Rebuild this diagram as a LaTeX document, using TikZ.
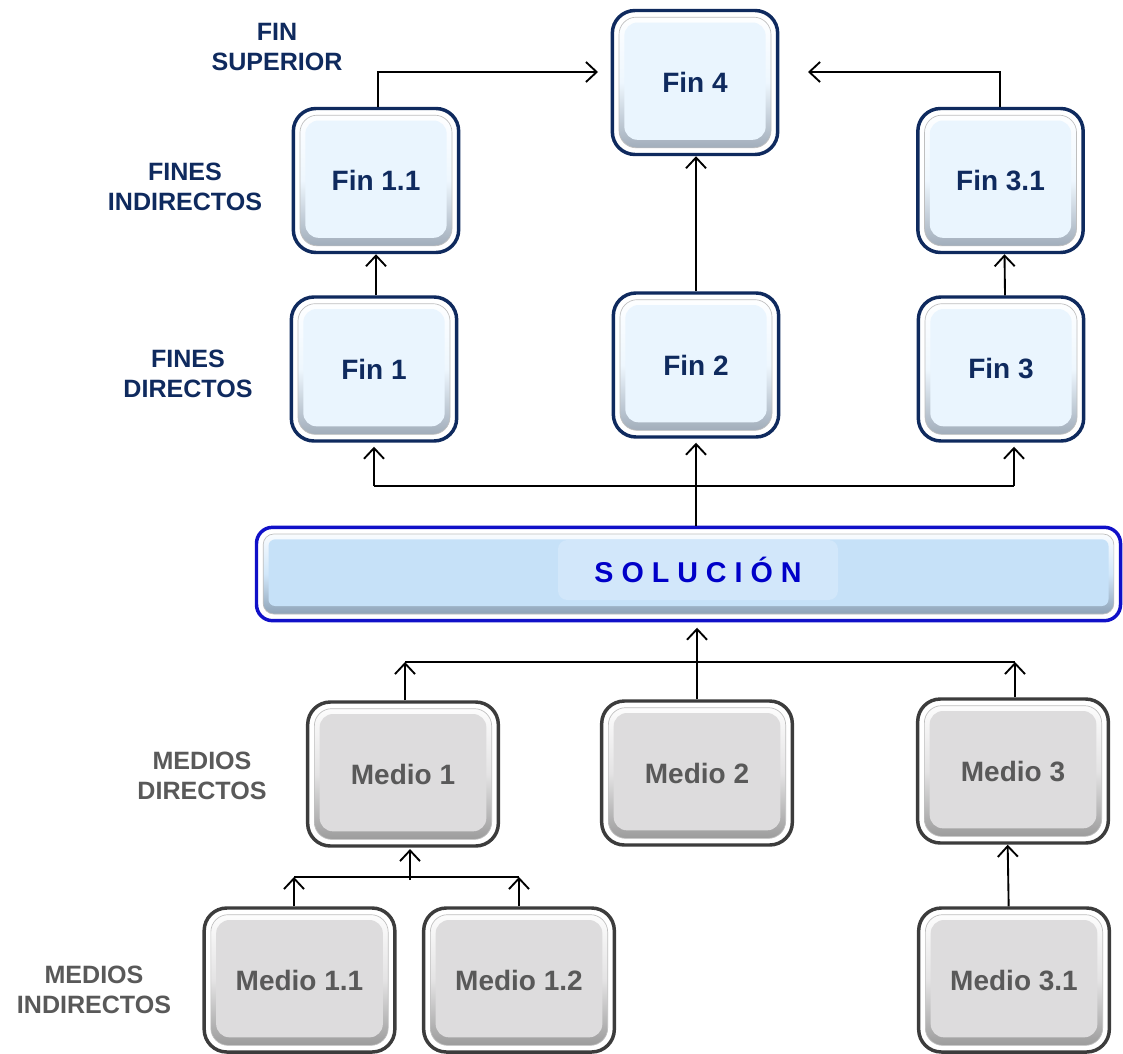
\documentclass[tikz,border=0pt]{standalone}
\usepackage{fontspec}
\setmainfont{Liberation Sans}
\usetikzlibrary{arrows.meta,calc}

\definecolor{navy}{HTML}{0F2A5E}
\definecolor{finfill}{HTML}{EAF5FE}
\definecolor{finbevel}{HTML}{9AA6B4}
\definecolor{medborder}{HTML}{3C3C3C}
\definecolor{medfill}{HTML}{DDDCDD}
\definecolor{medbevel}{HTML}{959595}
\definecolor{medtext}{HTML}{595959}
\definecolor{solborder}{HTML}{1010C8}
\definecolor{solfill}{HTML}{C6E1F8}
\definecolor{solpanel}{HTML}{D2E7FA}
\definecolor{solbevel}{HTML}{8398AD}
\definecolor{soltext}{HTML}{0000C8}

% bevelled inner face of a framed box: #1 bevel shade, #2 face colour, #3 radius
\newcommand{\bevelface}[3]{%
  \shade[rounded corners=#3, top color=white, bottom color=#1, middle color=#2!80!white, draw=gray!50, line width=0.5pt]
    ($(path picture bounding box.south west)+(5pt,5pt)$) rectangle
    ($(path picture bounding box.north east)+(-5pt,-5pt)$);
  \fill[rounded corners=#3-3pt, #2]
    ($(path picture bounding box.south west)+(9pt,11pt)$) rectangle
    ($(path picture bounding box.north east)+(-9pt,-9pt)$);
}

\tikzset{
  finbox/.style={draw=navy, line width=2.6pt, fill=white, rounded corners=17pt,
    minimum width=124pt, minimum height=108pt, text=navy,
    font=\fontsize{21}{25}\selectfont\bfseries,
    path picture={\bevelface{finbevel}{finfill}{13pt}}},
  medbox/.style={draw=medborder, line width=2.6pt, fill=white, rounded corners=17pt,
    minimum width=143pt, minimum height=108pt, text=medtext,
    font=\fontsize{21}{25}\selectfont\bfseries,
    path picture={\bevelface{medbevel}{medfill}{13pt}}},
  solbar/.style={draw=solborder, line width=2.6pt, fill=white, rounded corners=12pt,
    minimum width=648pt, minimum height=70pt,
    path picture={\bevelface{solbevel}{solfill}{8pt}}},
  finlabel/.style={text=navy, align=center, font=\fontsize{18.8}{22.5}\selectfont\bfseries},
  medlabel/.style={text=medtext, align=center, font=\fontsize{18.8}{22.5}\selectfont\bfseries},
  conn/.style={line width=1.4pt, black},
  arr/.style={conn, -{Straight Barb[length=8pt,width=15pt,line width=1.4pt]}},
}

\begin{document}
\begin{tikzpicture}[x=0.75pt, y=-0.75pt]
\useasboundingbox (0,0) rectangle (1123,1053);

% ends (fines)
\node[finbox] (f4)  at (695, 82.5) {Fin 4};
\node[finbox] (f11) at (376, 180.5) {Fin 1.1};
\node[finbox] (f31) at (1000.5, 180.5) {Fin 3.1};
\node[finbox] (f1)  at (374, 369) {Fin 1};
\node[finbox] (f2)  at (696, 365) {Fin 2};
\node[finbox] (f3)  at (1001, 369) {Fin 3};

% solution bar
\node[solbar] (sol) at (688.5, 574) {};
\node[fill=solpanel, rounded corners=7pt, minimum width=210pt, minimum height=45pt,
      text=soltext, font=\fontsize{21.5}{25}\selectfont\bfseries] (soltxt) at (698, 570) {S O L U C I Ó N};

% means (medios)
\node[medbox] (m1)  at (403, 774) {Medio 1};
\node[medbox] (m2)  at (697, 773) {Medio 2};
\node[medbox] (m3)  at (1013, 771) {Medio 3};
\node[medbox] (m11) at (299.5, 980) {Medio 1.1};
\node[medbox] (m12) at (519, 980) {Medio 1.2};
\node[medbox] (m31) at (1014, 980) {Medio 3.1};

% level labels
\node[finlabel] (lfs) at (277, 47)  {FIN\\SUPERIOR};
\node[finlabel] (lfi) at (185, 187) {FINES\\INDIRECTOS};
\node[finlabel] (lfd) at (188, 374) {FINES\\DIRECTOS};
\node[medlabel] (lmd) at (202, 776) {MEDIOS\\DIRECTOS};
\node[medlabel] (lmi) at (94, 990)  {MEDIOS\\INDIRECTOS};

% junction points
\coordinate (jl)  at (378, 72);
\coordinate (jr)  at (1000, 72);
\coordinate (tl)  at (598, 72);
\coordinate (tr)  at (808, 72);
\coordinate (sj)  at (696, 486);
\coordinate (sjl) at (374, 486);
\coordinate (sjr) at (1014, 486);
\coordinate (bj)  at (697, 662);
\coordinate (bjl) at (405, 662);
\coordinate (bjr) at (1015, 662);
\coordinate (mj)  at (410, 877);
\coordinate (mjl) at (294, 877);
\coordinate (mjr) at (519, 877);

% upper connectors
\draw[arr] (f11.north -| jl) -- (jl) -- (tl);
\draw[arr] (f31.north -| jr) -- (jr) -- (tr);
\draw[arr] (f1.north -| f11.south) -- (f11.south);
\draw[arr] ($(f3.north)+(3pt,0)$) -- ($(f31.south)+(3pt,0)$);
\draw[arr] (f2.north) -- (f2.north |- f4.south);

% solution to direct ends
\draw[conn] (sol.north -| sj) -- (sj);
\draw[conn] (sjl) -- (sjr);
\draw[arr, shorten >=3pt] (sj) -- (f2.south);
\draw[arr, shorten >=3pt] (sjl) -- (sjl |- f1.south);
\draw[arr, shorten >=3pt] (sjr) -- (sjr |- f3.south);

% direct means to solution
\draw[conn] (bjl) -- (bjr);
\draw[arr] (m1.north -| bjl) -- (bjl);
\draw[arr] (m3.north -| bjr) -- (bjr);
\draw[arr, shorten >=4pt] (m2.north) -- (m2.north |- sol.south);

% indirect means
\draw[conn] (mjl) -- (mjr);
\draw[arr] (m11.north -| mjl) -- (mjl);
\draw[arr] (m12.north) -- (mjr);
\draw[arr, shorten >=1pt] ($(mj)+(0,3)$) -- (mj |- m1.south);
\draw[arr] ($(m31.north)+(-4pt,0)$) -- ($(m3.south)+(-4pt,0)$);
\end{tikzpicture}
\end{document}
